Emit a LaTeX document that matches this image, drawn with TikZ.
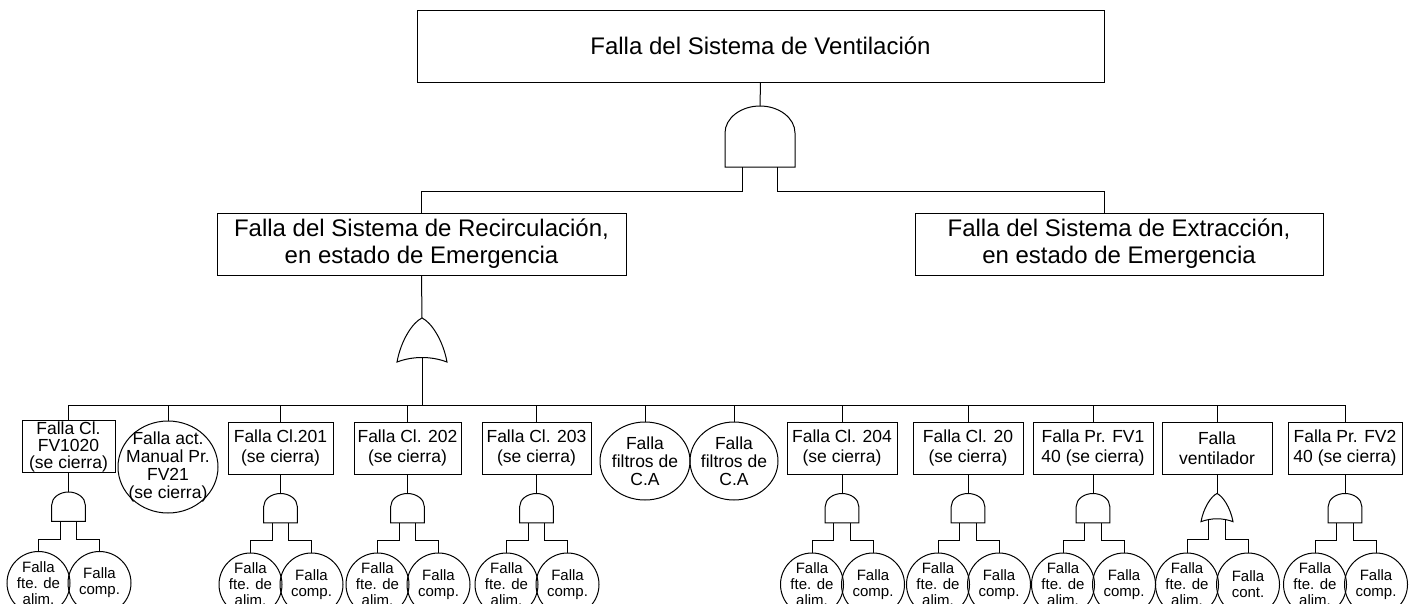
\documentclass[tikz,border=0pt]{standalone}
\usepackage{fontspec}
\setmainfont{Liberation Sans}
\usetikzlibrary{positioning}

\tikzset{
  bigbox/.style={draw, inner sep=0pt, align=center, font=\fontsize{24}{27}\selectfont},
  evbox/.style={draw, inner sep=0pt, align=center, minimum height=52pt, font=\fontsize{17.5}{20}\selectfont},
  evcirc/.style={inner sep=0pt, align=center, font=\fontsize{17.5}{18}\selectfont},
  leaf/.style={draw, circle, inner sep=0pt, minimum size=63pt, align=center, font=\fontsize{15}{16}\selectfont},
  andgate/.pic={
    \draw (-35,27) .. controls (-35,12) and (-19,0) .. (0,0) .. controls (19,0) and (35,12) .. (35,27) -- (35,61) -- (-35,61) -- cycle;
    \coordinate (-top) at (0,0);
    \coordinate (-l) at (-17.5,61);
    \coordinate (-r) at (17.5,61);
  },
  orgate/.pic={
    \draw (-25,44) .. controls (-21,22) and (-9,4) .. (0,0) .. controls (9,4) and (21,22) .. (25,44) .. controls (9,38) and (-9,38) .. (-25,44) -- cycle;
    \coordinate (-top) at (0,0);
    \coordinate (-out) at (0,40);
    \coordinate (-l) at (-14,41);
    \coordinate (-r) at (14,41);
  }
}

\begin{document}
\begin{tikzpicture}[x=1pt, y=-1pt, line width=1pt]
  \useasboundingbox (0,0) rectangle (1413,603);
  \clip (0,0) rectangle (1413,603);

  % top event and first gates
  \node[bigbox, minimum width=687pt, minimum height=72pt] (top) at (760.5,46) {Falla del Sistema de Ventilación};
  \pic (g0) at (760,106) {andgate};
  \node[bigbox, minimum width=409pt, minimum height=62pt] (rec) at (421.5,244) {Falla del Sistema de Recirculación,\\en estado de Emergencia};
  \node[bigbox, minimum width=408pt, minimum height=62pt] (ext) at (1119,244) {Falla del Sistema de Extracción,\\en estado de Emergencia};
  \pic (g1) at (422,318) {orgate};
  \coordinate (bus) at (422,405);

  \draw (top.south) -- (g0-top);
  \draw (g0-l) -- ++(0,24) -| (rec.north);
  \draw (g0-r) -- ++(0,24) -| ([xshift=-15pt]ext.north);
  \draw (rec.south) -- (g1-top);
  \draw (g1-out) -- (bus);

  % second level
  \node[evbox, minimum width=93pt, font=\fontsize{17.5}{17}\selectfont] (c1) at (68.5,446.5) {Falla Cl.\\FV1020\\(se cierra)};
  \node[evcirc, minimum width=100pt, minimum height=92pt] (c2) at (168,467) {Falla act.\\Manual Pr.\\FV21\\(se cierra)};
  \draw (c2) ellipse [x radius=50, y radius=46];
  \node[evbox, minimum width=105pt] (c3) at (280.5,448) {Falla Cl.201\\(se cierra)};
  \node[evbox, minimum width=107pt] (c4) at (407.5,448) {Falla Cl. 202\\(se cierra)};
  \node[evbox, minimum width=109pt] (c5) at (536.5,448) {Falla Cl. 203\\(se cierra)};
  \node[evcirc, minimum width=90pt, minimum height=78pt] (c6) at (645,461) {Falla\\filtros de\\C.A};
  \draw (c6) ellipse [x radius=45, y radius=39];
  \node[evcirc, minimum width=88pt, minimum height=78pt] (c7) at (734,461) {Falla\\filtros de\\C.A};
  \draw (c7) ellipse [x radius=44, y radius=39];
  \node[evbox, minimum width=110pt] (c8) at (842,448) {Falla Cl. 204\\(se cierra)};
  \node[evbox, minimum width=110pt] (c9) at (968,448) {Falla Cl. 20\\(se cierra)};
  \node[evbox, minimum width=120pt] (c10) at (1093,448) {Falla Pr. FV1\\40 (se cierra)};
  \node[evbox, minimum width=110pt] (c11) at (1217,448) {Falla\\ventilador};
  \node[evbox, minimum width=114pt] (c12) at (1345,448) {Falla Pr. FV2\\40 (se cierra)};

  \foreach \c in {c1,c2,c3,c4,c5,c6,c7,c8,c9,c10,c11,c12}
    \draw (bus) -| (\c.north);

  % basic events
  \foreach \c in {c1,c3,c4,c5,c8,c9,c10,c12}{
    \pic[scale=0.48] (g\c) at ([yshift=-19pt]\c.south) {andgate};
    \node[leaf] (\c-a) at ([xshift=-30pt,yshift=-110pt]\c.south) {Falla\\fte. de\\alim.};
    \node[leaf] (\c-b) at ([xshift=31pt,yshift=-110pt]\c.south) {Falla\\comp.};
    \draw (\c.south) -- (g\c-top);
    \draw (g\c-l) -- ++(0,18) -| (\c-a.north);
    \draw (g\c-r) -- ++(0,18) -| (\c-b.north);
  }
  \pic[scale=0.64] (gc11) at ([yshift=-19pt]c11.south) {orgate};
  \node[leaf] (c11-a) at ([xshift=-30pt,yshift=-110pt]c11.south) {Falla\\fte. de\\alim.};
  \node[leaf] (c11-b) at ([xshift=31pt,yshift=-110pt]c11.south) {Falla\\cont.};
  \draw (c11.south) -- (gc11-top);
  \draw (gc11-l) -- ++(0,20) -| (c11-a.north);
  \draw (gc11-r) -- ++(0,20) -| (c11-b.north);
\end{tikzpicture}
\end{document}
